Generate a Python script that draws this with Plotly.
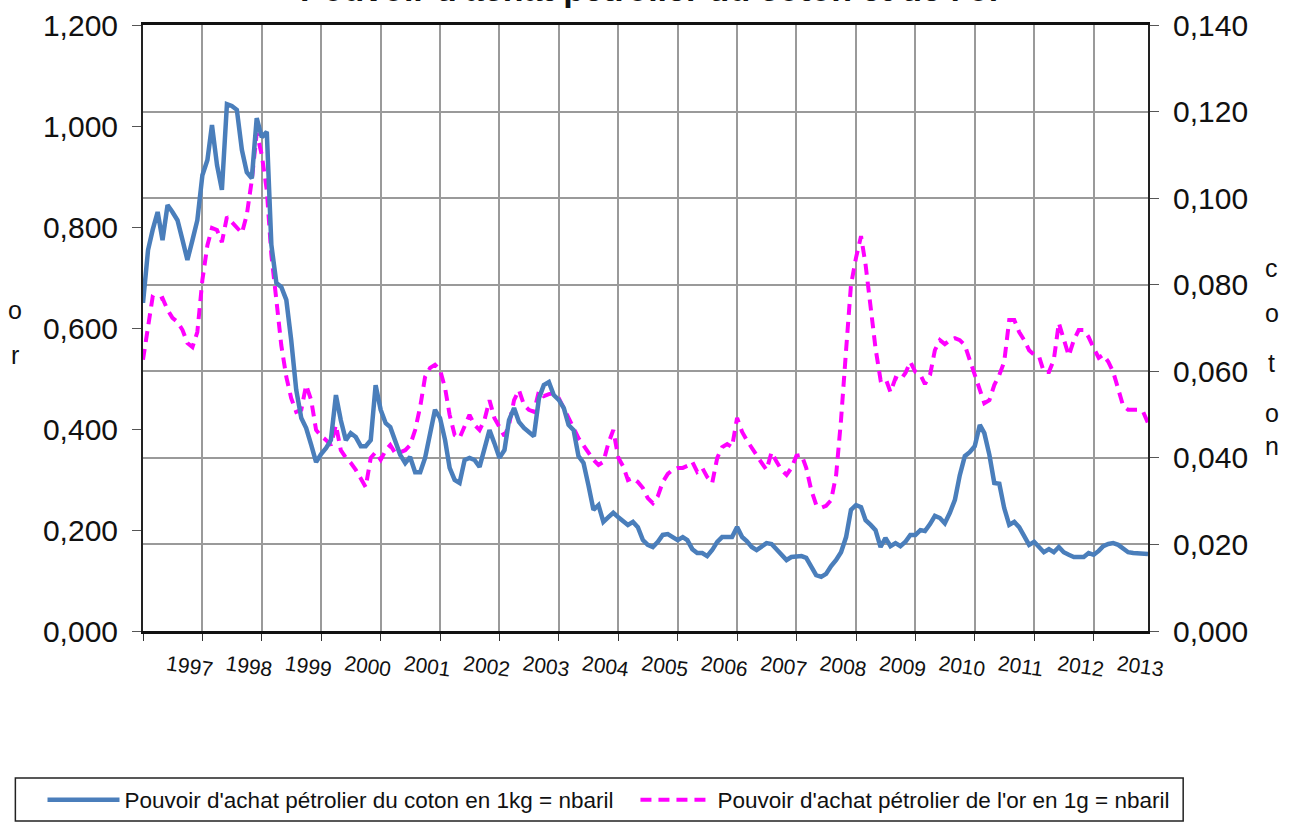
import pandas as pd
import plotly.graph_objects as go

# monthly data, Jan 1997 -> Dec 2013
months = pd.date_range("1997-01-01", "2013-12-01", freq="MS")

# cotton: barrels of oil bought with 1 kg (right axis)
coton = [
    0.0758, 0.0880, 0.0926, 0.0968, 0.0903, 0.0984, 0.0968, 0.0949, 0.0903, 0.0857, 0.0903, 0.0949,
    0.1053, 0.1088, 0.1169, 0.1076, 0.1019, 0.1217, 0.1213, 0.1204, 0.1111, 0.1060, 0.1046, 0.1185,
    0.1141, 0.1153, 0.0892, 0.0804, 0.0795, 0.0765, 0.0672, 0.0557, 0.0492, 0.0469, 0.0430, 0.0390,
    0.0409, 0.0423, 0.0441, 0.0545, 0.0487, 0.0441, 0.0457, 0.0448, 0.0427, 0.0427, 0.0441, 0.0568,
    0.0511, 0.0480, 0.0471, 0.0437, 0.0407, 0.0388, 0.0402, 0.0367, 0.0367, 0.0400, 0.0453, 0.0511,
    0.0492, 0.0441, 0.0377, 0.0349, 0.0342, 0.0395, 0.0400, 0.0395, 0.0379, 0.0418, 0.0464, 0.0434,
    0.0400, 0.0418, 0.0487, 0.0515, 0.0483, 0.0469, 0.0460, 0.0450, 0.0538, 0.0568, 0.0575, 0.0545,
    0.0534, 0.0515, 0.0476, 0.0464, 0.0404, 0.0388, 0.0337, 0.0280, 0.0291, 0.0252, 0.0263, 0.0273,
    0.0263, 0.0254, 0.0245, 0.0252, 0.0240, 0.0210, 0.0199, 0.0194, 0.0206, 0.0222, 0.0224, 0.0217,
    0.0210, 0.0217, 0.0210, 0.0189, 0.0180, 0.0180, 0.0173, 0.0187, 0.0206, 0.0217, 0.0217, 0.0217,
    0.0240, 0.0217, 0.0208, 0.0194, 0.0187, 0.0196, 0.0203, 0.0201, 0.0189, 0.0176, 0.0164, 0.0171,
    0.0173, 0.0173, 0.0169, 0.0150, 0.0129, 0.0125, 0.0132, 0.0150, 0.0164, 0.0182, 0.0217, 0.0280,
    0.0291, 0.0286, 0.0256, 0.0245, 0.0233, 0.0194, 0.0215, 0.0196, 0.0203, 0.0196, 0.0206, 0.0222,
    0.0222, 0.0233, 0.0231, 0.0247, 0.0266, 0.0261, 0.0249, 0.0273, 0.0303, 0.0360, 0.0404, 0.0413,
    0.0427, 0.0476, 0.0457, 0.0407, 0.0342, 0.0340, 0.0284, 0.0245, 0.0252, 0.0240, 0.0217, 0.0199,
    0.0206, 0.0194, 0.0182, 0.0189, 0.0182, 0.0194, 0.0182, 0.0176, 0.0171, 0.0171, 0.0171, 0.0180,
    0.0176, 0.0185, 0.0196, 0.0201, 0.0203, 0.0199, 0.0189, 0.0182, 0.0180, 0.0180, 0.0178, 0.0178,
]

# gold: barrels of oil bought with 1 g (left axis)
gold = [
    0.537, 0.606, 0.661, 0.655, 0.659, 0.636, 0.620, 0.612, 0.596, 0.570, 0.562, 0.592,
    0.695, 0.764, 0.798, 0.794, 0.770, 0.820, 0.810, 0.798, 0.788, 0.824, 0.893, 0.986,
    0.943, 0.873, 0.745, 0.655, 0.566, 0.503, 0.461, 0.434, 0.438, 0.487, 0.457, 0.398,
    0.386, 0.378, 0.368, 0.408, 0.358, 0.343, 0.333, 0.319, 0.303, 0.285, 0.343, 0.354,
    0.339, 0.358, 0.368, 0.352, 0.354, 0.358, 0.368, 0.398, 0.444, 0.503, 0.521, 0.527,
    0.517, 0.481, 0.428, 0.388, 0.382, 0.404, 0.428, 0.408, 0.398, 0.418, 0.457, 0.422,
    0.404, 0.386, 0.408, 0.457, 0.477, 0.448, 0.438, 0.434, 0.475, 0.465, 0.469, 0.471,
    0.461, 0.442, 0.422, 0.402, 0.382, 0.368, 0.354, 0.339, 0.329, 0.335, 0.372, 0.398,
    0.343, 0.325, 0.299, 0.303, 0.295, 0.283, 0.263, 0.253, 0.267, 0.295, 0.311, 0.319,
    0.323, 0.323, 0.327, 0.335, 0.315, 0.323, 0.305, 0.293, 0.343, 0.364, 0.370, 0.364,
    0.422, 0.394, 0.378, 0.362, 0.347, 0.333, 0.319, 0.354, 0.335, 0.319, 0.309, 0.323,
    0.347, 0.349, 0.323, 0.279, 0.250, 0.244, 0.248, 0.259, 0.309, 0.418, 0.556, 0.685,
    0.739, 0.782, 0.725, 0.636, 0.560, 0.497, 0.501, 0.473, 0.501, 0.497, 0.511, 0.533,
    0.513, 0.507, 0.489, 0.507, 0.556, 0.576, 0.568, 0.576, 0.580, 0.576, 0.566, 0.537,
    0.507, 0.477, 0.451, 0.457, 0.487, 0.507, 0.533, 0.616, 0.616, 0.592, 0.576, 0.556,
    0.547, 0.543, 0.513, 0.513, 0.537, 0.610, 0.576, 0.545, 0.576, 0.596, 0.596, 0.582,
    0.560, 0.541, 0.547, 0.533, 0.513, 0.477, 0.446, 0.438, 0.438, 0.438, 0.434, 0.412,
]

years = list(range(1997, 2014))
left_ticks = [0, 0.2, 0.4, 0.6, 0.8, 1.0, 1.2]
right_ticks = [0, 0.02, 0.04, 0.06, 0.08, 0.10, 0.12, 0.14]

FONT = "Liberation Sans, Arial"
INK = "#111111"

fig = go.Figure()
fig.add_trace(go.Scatter(x=months, y=coton, yaxis="y2", mode="lines",
                         name="Pouvoir d'achat pétrolier du coton en 1kg = nbaril",
                         line=dict(color="#4a7ebb", width=4.5), legend="legend"))
fig.add_trace(go.Scatter(x=months, y=gold, yaxis="y", mode="lines",
                         name="Pouvoir d'achat pétrolier de l'or en 1g = nbaril",
                         line=dict(color="#ff00ff", width=4, dash="11px,7px"), legend="legend2"))

leg_style = dict(orientation="h", yanchor="middle", y=-0.279,
                 font=dict(size=22.5, family=FONT, color=INK),
                 itemwidth=72, bgcolor="rgba(0,0,0,0)")

fig.update_layout(
    width=1292, height=822,
    margin=dict(l=143, r=144, t=25, b=191, autoexpand=False),
    paper_bgcolor="white", plot_bgcolor="white",
    separators=", ",
    font=dict(family=FONT, color=INK),
    xaxis=dict(
        range=[months[0], months[-1]],
        tickvals=[pd.Timestamp(f"{y}-01-01") for y in years],
        ticktext=[str(y) for y in years],
        tickangle=8, ticklabelshift=24, ticklabelstandoff=4,
        tickfont=dict(size=21),
        ticks="outside", ticklen=7, tickcolor="#333",
        showgrid=True, gridcolor="#9a9a9a", gridwidth=1.5,
        showline=True, linecolor=INK, linewidth=3, mirror=True,
        zeroline=False,
    ),
    yaxis=dict(
        range=[0, 1.2], tickvals=left_ticks, tickformat=".3f",
        tickfont=dict(size=30), ticklabelstandoff=8,
        ticks="outside", ticklen=9, tickcolor="#555",
        showgrid=False, zeroline=False,
        showline=True, linecolor="#222", linewidth=2,
    ),
    yaxis2=dict(
        range=[0, 0.14], tickvals=right_ticks, tickformat=".3f",
        tickfont=dict(size=30), ticklabelstandoff=8,
        ticks="outside", ticklen=9, tickcolor="#555",
        overlaying="y", side="right",
        showgrid=True, gridcolor="#9a9a9a", gridwidth=1.5, zeroline=False,
        showline=True, linecolor="#222", linewidth=2,
    ),
    legend=dict(x=-0.100, xanchor="left", **leg_style),
    legend2=dict(x=0.490, xanchor="left", **leg_style),
    showlegend=True,
)

# title, mostly cut off at the top edge as in the source image
fig.add_annotation(text="<b>Pouvoir d'achat pétrolier du coton et de l'or</b>",
                   xref="paper", yref="paper", x=0.505, y=1.024, xanchor="center", yanchor="bottom",
                   showarrow=False, font=dict(size=34, family=FONT, color=INK))

# legend frame
fig.add_shape(type="rect", xref="paper", yref="paper",
              x0=-0.127, x1=1.035, y0=-0.3135, y1=-0.2426,
              line=dict(color="#222", width=1.5), fillcolor="rgba(0,0,0,0)")

# stacked axis titles
for ch, yy in zip("or", [0.530, 0.455]):
    fig.add_annotation(text=ch, xref="paper", yref="paper", x=-0.127, y=yy, xanchor="center",
                       showarrow=False, font=dict(size=25, family=FONT, color=INK))
for ch, yy in zip("coton", [0.599, 0.525, 0.442, 0.360, 0.279]):
    fig.add_annotation(text=ch, xref="paper", yref="paper", x=1.123, y=yy, xanchor="center",
                       showarrow=False, font=dict(size=25, family=FONT, color=INK))

fig.write_html("out.html", config={"displayModeBar": False},
               post_script="document.body.style.margin = '0';")
